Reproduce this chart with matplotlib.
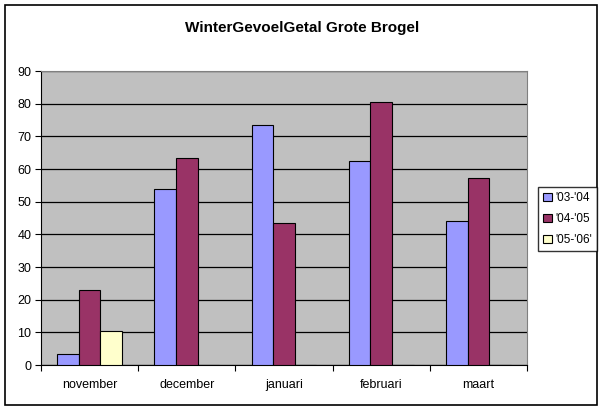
import matplotlib
matplotlib.use("Agg")
import matplotlib.pyplot as plt
import numpy as np
from matplotlib.patches import Rectangle

plt.rcParams['font.family'] = ['Liberation Sans', 'DejaVu Sans']

categories = ["november", "december", "januari", "februari", "maart"]
series_names = ["'03-'04", "'04-'05", "'05-'06'"]
s0304 = [3.4, 53.8, 73.5, 62.4, 44.1]
s0405 = [22.9, 63.4, 43.5, 80.5, 57.2]
s0506 = [10.4, 0, 0, 0, 0]
colors = ["#9999FF", "#993366", "#FFFFCC"]
yticks = [0, 10, 20, 30, 40, 50, 60, 70, 80, 90]

W, H = 603, 411
fig = plt.figure(figsize=(W/100, H/100), dpi=100)
fig.patch.set_facecolor("white")
fig.add_artist(Rectangle((5/W, 1 - 405/H), 592/W, 400/H, transform=fig.transFigure,
                         fill=False, edgecolor="black", linewidth=1.2))

ax = fig.add_axes([41/W, 1 - 365/H, 486/W, 294/H])
ax.set_facecolor("#C0C0C0")
x = np.arange(len(categories))
bw = 1/4.5
for i, (vals, c, n) in enumerate(zip([s0304, s0405, s0506], colors, series_names)):
    ax.bar(x + (i - 1)*bw, vals, width=bw, color=c, edgecolor="black", linewidth=0.8,
           label=n, zorder=3)

ax.set_xlim(-0.5, len(categories) - 0.5)
ax.set_ylim(0, 90)
ax.set_yticks(yticks)
ax.set_yticklabels([str(v) for v in yticks], fontsize=9)
ax.yaxis.grid(True, color="black", linewidth=0.9, zorder=1)
ax.set_axisbelow(True)
ax.set_xticks(np.arange(-0.5, len(categories), 1))
ax.set_xticklabels([])
ax.set_xticks(x, minor=True)
ax.set_xticklabels(categories, minor=True, fontsize=9)
ax.tick_params(axis='x', which='minor', length=0, pad=10)
ax.tick_params(axis='x', which='major', length=4, direction='out', color='black')
ax.tick_params(axis='y', length=4, direction='out', color='black', pad=3)
for s in ["top", "right"]:
    ax.spines[s].set_color("#808080")
for s in ["left", "bottom"]:
    ax.spines[s].set_color("black")

fig.text(302/W, 1 - 28/H, "WinterGevoelGetal Grote Brogel", ha="center", va="center",
         fontsize=11, fontweight="bold")

leg = fig.legend(loc="upper left", bbox_to_anchor=(538/W, 1 - 187/H), frameon=True,
                 fontsize=8.5, handlelength=0.7, handleheight=0.7, handletextpad=0.3,
                 borderpad=0.45, labelspacing=0.75, fancybox=False, borderaxespad=0)
leg.get_frame().set_edgecolor("black")
leg.get_frame().set_linewidth(1.0)

fig.savefig("out.png", dpi=100, facecolor="white")
